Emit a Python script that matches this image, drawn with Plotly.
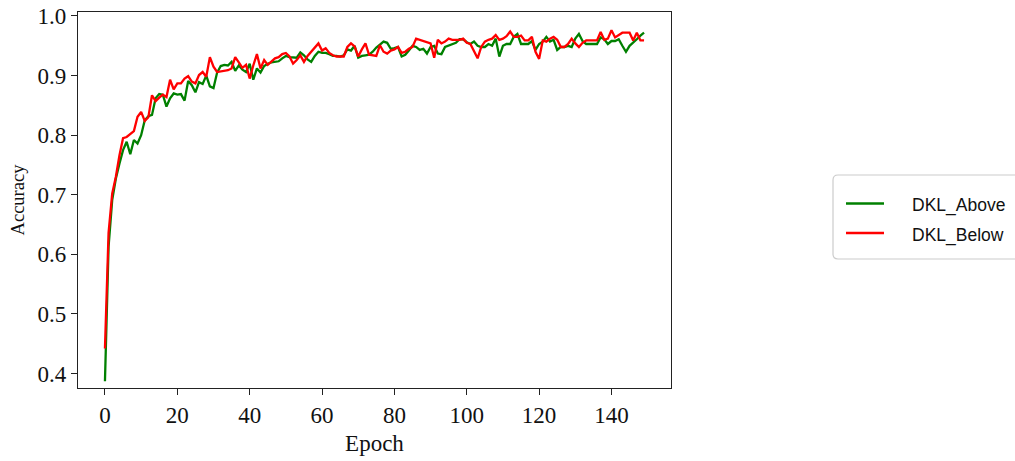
import plotly.graph_objects as go

# Training accuracy per epoch for the two DKL variants
epochs = list(range(150))

dkl_above = [
    0.387, 0.613, 0.691, 0.727, 0.752, 0.775, 0.789, 0.768, 0.792, 0.786,
    0.800, 0.825, 0.832, 0.834, 0.862, 0.869, 0.868, 0.848, 0.862, 0.870,
    0.868, 0.869, 0.858, 0.891, 0.884, 0.872, 0.889, 0.886, 0.900, 0.882,
    0.879, 0.905, 0.916, 0.918, 0.917, 0.923, 0.908, 0.917, 0.910, 0.906,
    0.920, 0.893, 0.912, 0.905, 0.916, 0.920, 0.922, 0.923, 0.924, 0.929,
    0.933, 0.931, 0.930, 0.930, 0.939, 0.934, 0.927, 0.923, 0.933, 0.940,
    0.938, 0.938, 0.936, 0.933, 0.933, 0.932, 0.934, 0.944, 0.942, 0.950,
    0.930, 0.933, 0.934, 0.935, 0.940, 0.947, 0.952, 0.957, 0.955, 0.945,
    0.946, 0.948, 0.932, 0.935, 0.942, 0.950, 0.948, 0.943, 0.945, 0.937,
    0.948, 0.950, 0.937, 0.936, 0.948, 0.950, 0.953, 0.955, 0.961, 0.961,
    0.956, 0.953, 0.957, 0.950, 0.948, 0.948, 0.953, 0.950, 0.962, 0.932,
    0.950, 0.953, 0.953, 0.965, 0.970, 0.953, 0.953, 0.953, 0.958, 0.943,
    0.953, 0.957, 0.965, 0.957, 0.960, 0.943, 0.948, 0.948, 0.950, 0.948,
    0.962, 0.970, 0.958, 0.953, 0.953, 0.953, 0.953, 0.964, 0.961, 0.953,
    0.958, 0.958, 0.961, 0.950, 0.940, 0.950, 0.955, 0.961, 0.967, 0.972,
]

dkl_below = [
    0.442, 0.636, 0.702, 0.730, 0.766, 0.795, 0.797, 0.802, 0.807, 0.831,
    0.839, 0.824, 0.830, 0.867, 0.857, 0.863, 0.868, 0.864, 0.893, 0.877,
    0.887, 0.887, 0.895, 0.899, 0.890, 0.887, 0.901, 0.906, 0.898, 0.931,
    0.915, 0.906, 0.907, 0.908, 0.909, 0.912, 0.931, 0.922, 0.913, 0.918,
    0.895, 0.917, 0.936, 0.912, 0.926, 0.918, 0.923, 0.929, 0.931, 0.936,
    0.938, 0.932, 0.920, 0.926, 0.934, 0.923, 0.933, 0.940, 0.947, 0.954,
    0.942, 0.946, 0.938, 0.934, 0.932, 0.932, 0.932, 0.948, 0.954, 0.949,
    0.932, 0.944, 0.954, 0.935, 0.934, 0.933, 0.951, 0.940, 0.937, 0.942,
    0.944, 0.948, 0.938, 0.940, 0.945, 0.948, 0.962, 0.960, 0.959, 0.956,
    0.954, 0.930, 0.960, 0.954, 0.957, 0.962, 0.960, 0.960, 0.960, 0.962,
    0.955, 0.953, 0.940, 0.929, 0.948, 0.957, 0.960, 0.962, 0.968, 0.960,
    0.962, 0.966, 0.974, 0.965, 0.965, 0.967, 0.959, 0.959, 0.965, 0.940,
    0.928, 0.959, 0.957, 0.962, 0.965, 0.960, 0.948, 0.948, 0.953, 0.962,
    0.954, 0.948, 0.955, 0.959, 0.959, 0.959, 0.959, 0.973, 0.960, 0.962,
    0.976, 0.964, 0.968, 0.972, 0.972, 0.972, 0.959, 0.972, 0.959, 0.959,
]

series_names = ["DKL_Above", "DKL_Below"]
series_colors = ["#008000", "#ff0000"]

x_ticks = [0, 20, 40, 60, 80, 100, 120, 140]
y_ticks = [0.4, 0.5, 0.6, 0.7, 0.8, 0.9, 1.0]

W, H = 1015, 461
ML, MR, MT, MB = 78, 344, 12, 73
PW, PH = W - ML - MR, H - MT - MB


def px_to_paper(px, py):
    """Convert a pixel position on the page to paper coordinates."""
    return (px - ML) / PW, (H - MB - py) / PH


fig = go.Figure()
for name, ys, color in zip(series_names, [dkl_above, dkl_below], series_colors):
    fig.add_trace(go.Scatter(x=epochs, y=ys, mode="lines", name=name,
                             line=dict(color=color, width=2.3), showlegend=False))

serif = "Liberation Serif, Times New Roman, serif"
axis_common = dict(
    showline=True, linecolor="#222222", linewidth=1.3, mirror=True,
    ticks="outside", ticklen=6, tickwidth=1.3, tickcolor="#222222",
    showgrid=False, zeroline=False, automargin=False,
    tickfont=dict(family=serif, size=23, color="#111111"),
)

# Legend: rounded frame, sample lines and labels
shapes, annotations = [], []
bx0, by0 = px_to_paper(833, 175)
bx1, by1 = px_to_paper(1030, 259)
r = 5
rx, ry = r / PW, r / PH
shapes.append(dict(
    type="path", xref="paper", yref="paper", layer="above",
    path=(f"M {bx0 + rx},{by0} L {bx1},{by0} L {bx1},{by1} L {bx0 + rx},{by1} "
          f"Q {bx0},{by1} {bx0},{by1 + ry} L {bx0},{by0 - ry} Q {bx0},{by0} {bx0 + rx},{by0} Z"),
    line=dict(color="#cccccc", width=1.2), fillcolor="rgba(0,0,0,0)"))

for i, (name, color) in enumerate(zip(series_names, series_colors)):
    ly = 203.5 + 29.5 * i
    x0, y0 = px_to_paper(846, ly)
    x1, _ = px_to_paper(884, ly)
    shapes.append(dict(type="line", xref="paper", yref="paper", x0=x0, x1=x1, y0=y0, y1=y0,
                       line=dict(color=color, width=2.3)))
    tx, ty = px_to_paper(910, ly + 2)
    annotations.append(dict(text=name, xref="paper", yref="paper", x=tx, y=ty,
                            xanchor="left", yanchor="middle", showarrow=False,
                            font=dict(family="Liberation Sans, Arial, sans-serif",
                                      size=17.5, color="#111111")))

fig.update_layout(
    width=W, height=H,
    margin=dict(l=ML, r=MR, t=MT, b=MB),
    paper_bgcolor="white", plot_bgcolor="white",
    showlegend=False,
    xaxis=dict(range=[-7.45, 156.45], tickvals=x_ticks,
               title=dict(text="Epoch", font=dict(family=serif, size=23, color="#111111"), standoff=8),
               **axis_common),
    yaxis=dict(range=[0.3758, 1.0067], tickvals=y_ticks, ticktext=[f"{v:.1f}" for v in y_ticks],
               title=dict(text="Accuracy", font=dict(family=serif, size=18.5, color="#111111"), standoff=8),
               **axis_common),
    shapes=shapes,
    annotations=annotations,
)

fig.write_html("out.html")
